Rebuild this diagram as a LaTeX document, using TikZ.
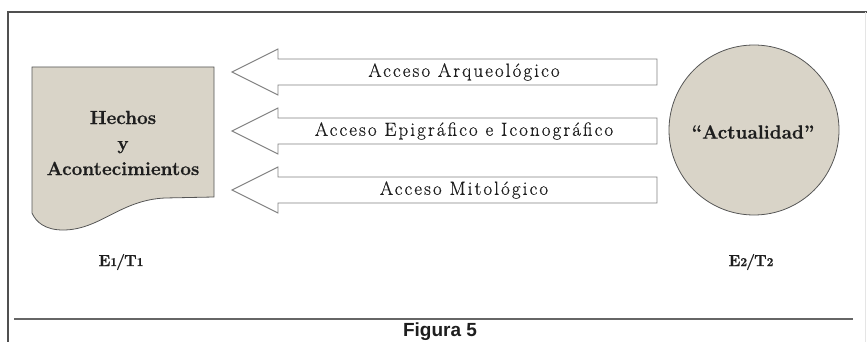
\documentclass[tikz,border=0pt]{standalone}
\usepackage{fontspec}
\newfontfamily\captionfont{Liberation Sans}
\newfontfamily\spacedfont{Latin Modern Roman}[LetterSpace=11,FakeBold=0.5]
\newfontfamily\heavyfont{Latin Modern Roman}[FakeBold=0.7]
\definecolor{shapefill}{RGB}{217,212,200}
\definecolor{shapeedge}{RGB}{85,85,85}
\definecolor{arrowedge}{RGB}{130,130,130}
\definecolor{inktext}{RGB}{30,30,30}
\definecolor{framegray}{RGB}{80,80,80}
\newcommand{\smallfig}[1]{{\fontsize{12}{12}\selectfont #1}}
\begin{document}
\begin{tikzpicture}[x=1pt,y=-1pt,
  frameline/.style={draw=framegray,line width=1.2pt},
  blockarrow/.style={draw=arrowedge,line width=0.9pt,fill=white,line join=miter},
  figshape/.style={draw=shapeedge,line width=0.8pt,fill=shapefill},
  arrowlabel/.style={text=inktext,font=\spacedfont\fontsize{19}{20}\selectfont,inner sep=0pt},
  boldlabel/.style={text=inktext,font=\heavyfont\fontsize{19}{25.5}\selectfont\bfseries,inner sep=0pt,align=center},
  steplabel/.style={text=inktext,font=\heavyfont\fontsize{16}{20}\selectfont\bfseries,inner sep=0pt}]
  \useasboundingbox (0,0) rectangle (867,342);

  % outer frame and caption rule
  \draw[frameline] (8,342) -- (8,12) -- (867,12);
  \draw[draw=gray!20,line width=0.8pt] (865,12) -- (865,342);
  \draw[draw=gray!80!black,line width=1.4pt] (14,319) -- (853,319);
  \node[font=\captionfont\bfseries\fontsize{19}{20}\selectfont,text=inktext,inner sep=0pt,anchor=base] (caption) at (440,336) {Figura 5};

  % document shape: past events
  \draw[figshape] (32,67) -- (214,67) -- (214,197) -- (165,198)
    .. controls (120,200) and (100,230) .. (63,230)
    .. controls (45,230) and (36,222) .. (32,213) -- cycle;
  \node[boldlabel] (hechos) at (123,143) {Hechos\\y\\Acontecimientos};
  \node[steplabel] (e1) at (121,262) {E\smallfig{1}\kern-1pt/\kern-1pt T\smallfig{1}};

  % circle: present
  \node[figshape,circle,minimum size=170pt,inner sep=0pt] (actual) at (754,130) {};
  \node[boldlabel] (actuallabel) at (753,132) {“Actualidad”};
  \node[steplabel] (e2) at (751,262) {E\smallfig{2}\kern-1pt/\kern-1pt T\smallfig{2}};

  % the three ways of access, pointing back to the events
  \foreach \yy/\lbl/\name in {72/Acceso Arqueológico/arq,131/Acceso Epigráfico e Iconográfico/epi,190/Acceso Mitológico/mit}{
    \draw[blockarrow] (232,\yy) -- (278,\yy-23) -- (278,\yy-13) -- (657,\yy-13)
      -- (657,\yy+13) -- (278,\yy+13) -- (278,\yy+23) -- cycle;
    \node[arrowlabel] (\name) at (464,\yy) {\lbl};
  }
\end{tikzpicture}
\end{document}
